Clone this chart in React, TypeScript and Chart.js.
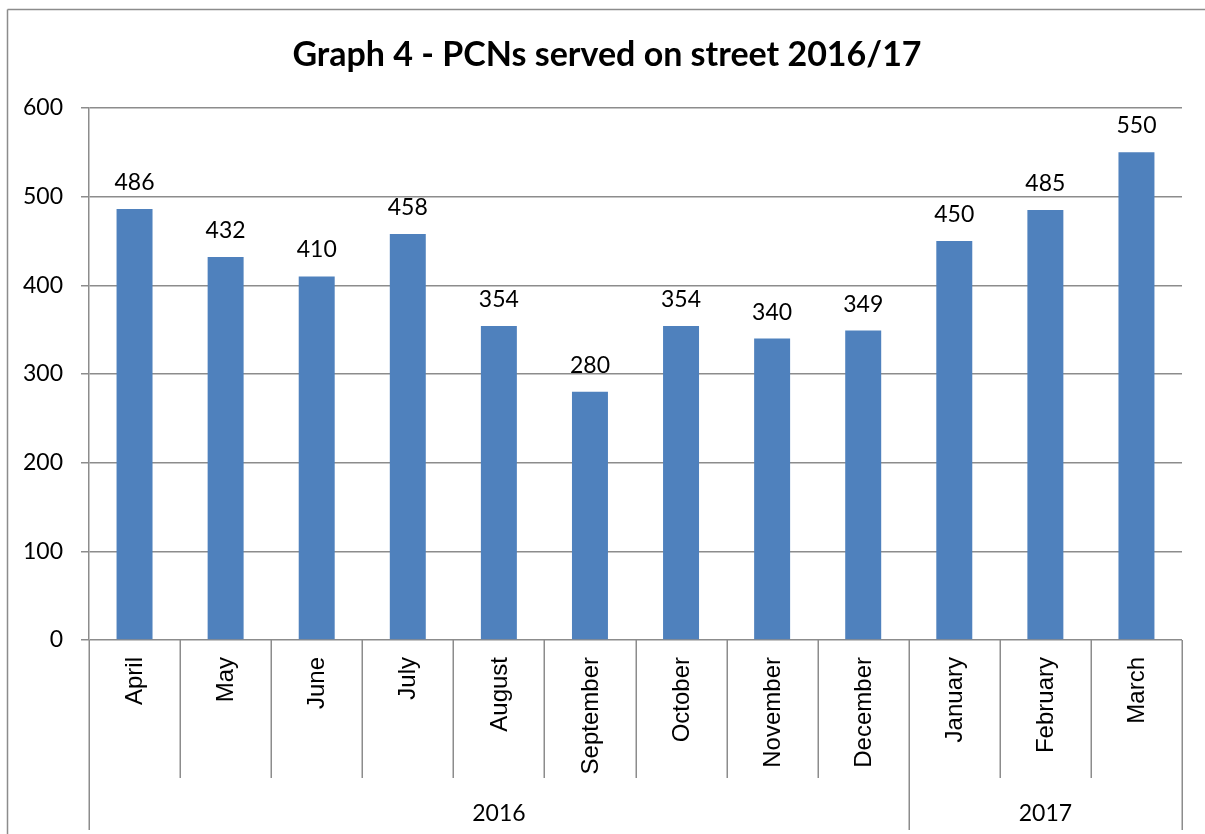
import React, { useEffect, useRef } from "react";
import { Chart, registerables } from "chart.js";

Chart.register(...registerables);

// ---- data ----
const months = [
  "April", "May", "June", "July", "August", "September",
  "October", "November", "December", "January", "February", "March",
];
const pcnsServed = [486, 432, 410, 458, 354, 280, 354, 340, 349, 450, 485, 550];
const yearLabels = ["2016", "2017"];
const monthsPerYear = [9, 3];
const yTicks = [0, 100, 200, 300, 400, 500, 600];
const chartTitle = "Graph 4 - PCNs served on street 2016/17";

// ---- style ----
const W = 1205;
const H = 834;
const GRID = "#8c8c8c";
const BAR = "#4F81BD";
const NUM_FAMILY = "Lato";
const NUM_SIZE = 23;
const CAT_FONT = "24px 'Liberation Sans', Arial, sans-serif";

const decorPlugin = {
  id: "decor",
  beforeDraw(chart: any) {
    const ctx = chart.ctx;
    ctx.save();
    ctx.fillStyle = "#ffffff";
    ctx.fillRect(0, 0, chart.width, chart.height);
    // outer frame (left + top)
    ctx.strokeStyle = GRID;
    ctx.lineWidth = 1.5;
    ctx.beginPath();
    ctx.moveTo(7.5, chart.height);
    ctx.lineTo(7.5, 9.5);
    ctx.stroke();
    ctx.beginPath();
    ctx.moveTo(7.5, 9.5);
    ctx.lineTo(chart.width, 9.5);
    ctx.stroke();
    // title
    ctx.fillStyle = "#000";
    ctx.font = `bold 34px ${NUM_FAMILY}`;
    ctx.textAlign = "center";
    ctx.textBaseline = "alphabetic";
    ctx.fillText(chartTitle, 607, 66);
    ctx.restore();
  },
  afterDatasetsDraw(chart: any) {
    const ctx = chart.ctx;
    const meta = chart.getDatasetMeta(0);
    ctx.save();
    ctx.fillStyle = "#000";
    ctx.font = `${NUM_SIZE}px ${NUM_FAMILY}`;
    ctx.textAlign = "center";
    ctx.textBaseline = "alphabetic";
    meta.data.forEach((bar: any, i: number) => {
      ctx.fillText(String(pcnsServed[i]), bar.x, bar.y - 19);
    });
    ctx.restore();
  },
  afterDraw(chart: any) {
    const ctx = chart.ctx;
    const { left, right, bottom } = chart.chartArea;
    const xs = chart.scales.x;
    const n = months.length;
    const cw = (right - left) / n;
    const groupEdges = new Set<number>([0]);
    let acc = 0;
    monthsPerYear.forEach((s) => {
      acc += s;
      groupEdges.add(acc);
    });

    ctx.save();
    ctx.strokeStyle = GRID;
    ctx.lineWidth = 1.5;
    for (let i = 0; i <= n; i++) {
      const px = Math.round(left + i * cw) + 0.25;
      const len = groupEdges.has(i) ? 190 : 138;
      ctx.beginPath();
      ctx.moveTo(px, bottom);
      ctx.lineTo(px, bottom + len);
      ctx.stroke();
    }

    // month labels (rotated)
    ctx.fillStyle = "#000";
    ctx.font = CAT_FONT;
    ctx.textAlign = "right";
    ctx.textBaseline = "middle";
    months.forEach((m, i) => {
      const cx = xs.getPixelForValue(i);
      ctx.save();
      ctx.translate(cx + 1, bottom + 17);
      ctx.rotate(-Math.PI / 2);
      ctx.fillText(m, 0, 0);
      ctx.restore();
    });

    // year labels
    ctx.font = `${NUM_SIZE}px ${NUM_FAMILY}`;
    ctx.textAlign = "center";
    ctx.textBaseline = "alphabetic";
    let start = 0;
    yearLabels.forEach((y, g) => {
      const end = start + monthsPerYear[g];
      const cx = left + ((start + end) / 2) * cw;
      ctx.fillText(y, cx, bottom + 181);
      start = end;
    });
    ctx.restore();
  },
};

export default function App() {
  const ref = useRef<HTMLCanvasElement | null>(null);

  useEffect(() => {
    if (!ref.current) return;
    const chart = new Chart(ref.current, {
      type: "bar",
      data: {
        labels: months,
        datasets: [
          {
            data: pcnsServed,
            backgroundColor: BAR,
            borderWidth: 0,
            barPercentage: 0.395,
            categoryPercentage: 1,
          },
        ],
      },
      options: {
        responsive: false,
        animation: false,
        devicePixelRatio: 1,
        layout: { padding: { left: 0, top: 108, right: 23, bottom: 194 } },
        plugins: {
          legend: { display: false },
          title: { display: false },
          tooltip: { enabled: false },
        },
        scales: {
          x: {
            display: false,
            offset: true,
            grid: { display: false },
          },
          y: {
            min: 0,
            max: 600,
            afterBuildTicks: (s: any) => {
              s.ticks = yTicks.map((v) => ({ value: v }));
            },
            afterFit: (s: any) => {
              s.width = 89;
            },
            ticks: {
              color: "#000",
              font: { family: NUM_FAMILY, size: NUM_SIZE },
              padding: 18,
            },
            grid: {
              color: GRID,
              lineWidth: 1.5,
              tickLength: 8,
              drawTicks: true,
            },
            border: { color: GRID, width: 1.5 },
          },
        },
      },
      plugins: [decorPlugin],
    } as any);

    const fonts: any = (document as any).fonts;
    if (fonts && fonts.load) {
      Promise.all([
        fonts.load(`${NUM_SIZE}px ${NUM_FAMILY}`),
        fonts.load(`bold 34px ${NUM_FAMILY}`),
        fonts.load(CAT_FONT),
      ]).then(() => chart.update()).catch(() => {});
    }
    return () => chart.destroy();
  }, []);

  return (
    <div style={{ position: "absolute", left: 0, top: 0, width: W, height: H, background: "#fff", overflow: "hidden" }}>
      <canvas ref={ref} width={W} height={H} style={{ width: W, height: H, display: "block" }} />
    </div>
  );
}
